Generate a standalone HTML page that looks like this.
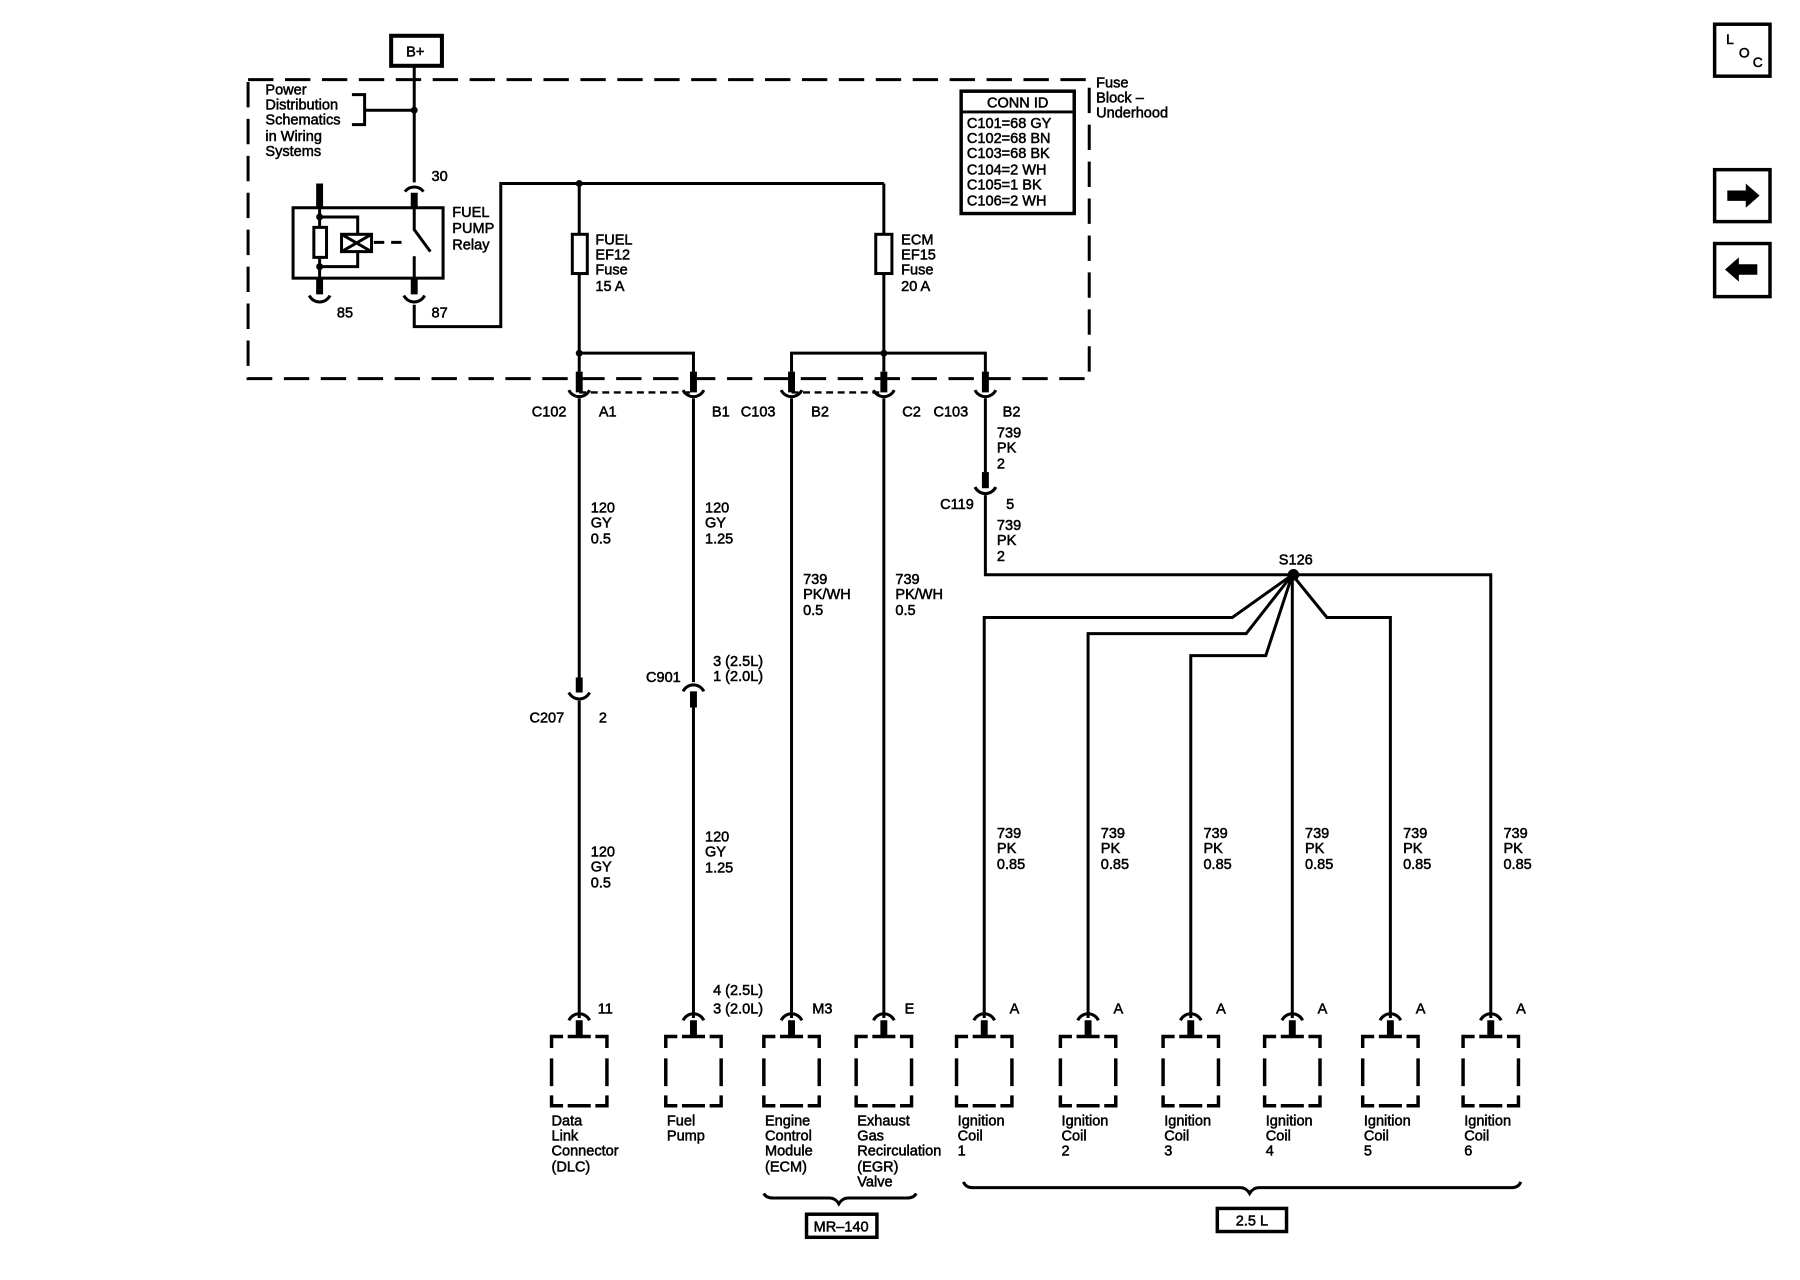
<!DOCTYPE html>
<html><head><meta charset="utf-8"><style>
html,body{margin:0;padding:0;background:#fff;}
svg{display:block;}
text{font-family:"Liberation Sans",Arial,sans-serif;font-size:12.6px;fill:#000;stroke:#000;stroke-width:0.45px;}
</style></head><body>
<svg width="1800" height="1280" viewBox="0 0 1560 1109" preserveAspectRatio="none" xmlns="http://www.w3.org/2000/svg">
<rect width="1560" height="1109" fill="#fff"/>
<g fill="none" stroke="#000" stroke-width="2.6">
<path d="M215 69 H944 V328 H215 Z" stroke-dasharray="22 10"/>
<rect x="339" y="31" width="44" height="26" stroke-width="3.5" fill="#fff"/>
<path d="M359 57 V158"/>
<path d="M305 82 H316 V108 H305 M316 95.5 H359"/>
<path d="M351 166 A10 10 0 0 1 367 166"/>
<path d="M359 167 V180" stroke-width="6"/>
<rect x="254" y="180" width="130" height="61" fill="#fff"/>
<path d="M277 159 V180" stroke-width="6"/>
<path d="M277 180 V241"/>
<rect x="272" y="197" width="11" height="26" fill="#fff"/>
<path d="M277 188 H310 V231 H277"/>
<rect x="296" y="203" width="26" height="15" fill="#fff"/>
<path d="M296 203 L322 218 M296 218 L322 203"/>
<path d="M324 210 H352" stroke-dasharray="9 6"/>
<path d="M359 180 V199 L373 218"/>
<path d="M359 222 V241"/>
<path d="M277 241 V255 M359 241 V255" stroke-width="6"/>
<path d="M268 256 A10 10 0 0 0 286 256 M350 256 A10 10 0 0 0 368 256"/>
<path d="M359 264 V283 H434 V159 H766"/>
<path d="M502 159 V306 M766 159 V306"/>
<rect x="496" y="203" width="13" height="34" fill="#fff"/>
<rect x="759" y="203" width="14" height="34" fill="#fff"/>
<path d="M502 306 H601 V322 M686 322 V306 H854 V322"/>
<path d="M502 306 V322 M766 306 V322"/>
<path d="M502 322 V340 M601 322 V340 M686 322 V340 M766 322 V340 M854 322 V340" stroke-width="6"/>
<path d="M502 340 H601 M686 340 H766" stroke-width="2" stroke-dasharray="6 4"/>
<path d="M493 338 A10 10 0 0 0 511 338 M592 338 A10 10 0 0 0 610 338 M677 338 A10 10 0 0 0 695 338 M757 338 A10 10 0 0 0 775 338 M845 338 A10 10 0 0 0 863 338"/>
<path d="M502 345 V587 M502 607 V882"/>
<path d="M502 587 V600" stroke-width="6"/>
<path d="M493 600 A10 10 0 0 0 511 600"/>
<path d="M601 345 V591 M601 613 V882"/>
<path d="M592 599 A10 10 0 0 1 610 599"/>
<path d="M601 599 V613" stroke-width="6"/>
<path d="M686 345 V882 M766 345 V882"/>
<path d="M854 345 V409 M854 429 V498 H1292 V882"/>
<path d="M854 409 V423" stroke-width="6"/>
<path d="M845 422 A10 10 0 0 0 863 422"/>
<path d="M853 882 V535 H1068 L1120 498"/>
<path d="M943 882 V549 H1080 L1120 498"/>
<path d="M1032 882 V568 H1097 L1120 498"/>
<path d="M1120 882 V498"/>
<path d="M1205 882 V535 H1150 L1120 498"/>
</g>
<circle cx="502" cy="159" r="3" fill="#000"/>
<circle cx="359" cy="95.5" r="3" fill="#000"/>
<circle cx="277" cy="188" r="3" fill="#000"/>
<circle cx="277" cy="231" r="3" fill="#000"/>
<circle cx="502" cy="306" r="3" fill="#000"/>
<circle cx="766" cy="306" r="3" fill="#000"/>
<circle cx="1121" cy="498" r="5" fill="#000"/>
<g fill="none" stroke="#000">
<path stroke-width="2.6" d="
M493 884 A10 10 0 0 1 511 884 M592 884 A10 10 0 0 1 610 884 M677 884 A10 10 0 0 1 695 884 M757 884 A10 10 0 0 1 775 884
M844 884 A10 10 0 0 1 862 884 M934 884 A10 10 0 0 1 952 884 M1023 884 A10 10 0 0 1 1041 884 M1111 884 A10 10 0 0 1 1129 884 M1196 884 A10 10 0 0 1 1214 884 M1283 884 A10 10 0 0 1 1301 884"/>
<path stroke-width="6" d="M502 884 V897 M601 884 V897 M686 884 V897 M766 884 V897 M853 884 V897 M943 884 V897 M1032 884 V897 M1120 884 V897 M1205 884 V897 M1292 884 V897"/>
</g>
<g fill="none" stroke="#000" stroke-width="3">
<path d="
M478 908 V898 H488 M492 898 H512 M516 898 H526 V908 M478 917 V941 M526 917 V941 M478 949 V958 H488 M492 958 H512 M516 958 H526 V949
M577 908 V898 H587 M591 898 H611 M615 898 H625 V908 M577 917 V941 M625 917 V941 M577 949 V958 H587 M591 958 H611 M615 958 H625 V949
M662 908 V898 H672 M676 898 H696 M700 898 H710 V908 M662 917 V941 M710 917 V941 M662 949 V958 H672 M676 958 H696 M700 958 H710 V949
M742 908 V898 H752 M756 898 H776 M780 898 H790 V908 M742 917 V941 M790 917 V941 M742 949 V958 H752 M756 958 H776 M780 958 H790 V949
M829 908 V898 H839 M843 898 H863 M867 898 H877 V908 M829 917 V941 M877 917 V941 M829 949 V958 H839 M843 958 H863 M867 958 H877 V949
M919 908 V898 H929 M933 898 H953 M957 898 H967 V908 M919 917 V941 M967 917 V941 M919 949 V958 H929 M933 958 H953 M957 958 H967 V949
M1008 908 V898 H1018 M1022 898 H1042 M1046 898 H1056 V908 M1008 917 V941 M1056 917 V941 M1008 949 V958 H1018 M1022 958 H1042 M1046 958 H1056 V949
M1096 908 V898 H1106 M1110 898 H1130 M1134 898 H1144 V908 M1096 917 V941 M1144 917 V941 M1096 949 V958 H1106 M1110 958 H1130 M1134 958 H1144 V949
M1181 908 V898 H1191 M1195 898 H1215 M1219 898 H1229 V908 M1181 917 V941 M1229 917 V941 M1181 949 V958 H1191 M1195 958 H1215 M1219 958 H1229 V949
M1268 908 V898 H1278 M1282 898 H1302 M1306 898 H1316 V908 M1268 917 V941 M1316 917 V941 M1268 949 V958 H1278 M1282 958 H1302 M1306 958 H1316 V949"/>
</g>
<g fill="none" stroke="#000" stroke-width="2.6">
<path d="M662 1034 Q664 1038 670 1038 H719 Q724 1038 727 1043 Q730 1038 735 1038 H786 Q792 1038 794 1034"/>
<path d="M835 1024 Q837 1029 843 1029 H1075 Q1080 1029 1083 1034 Q1086 1029 1091 1029 H1310 Q1316 1029 1318 1024"/>
<rect x="699" y="1052" width="61" height="20" stroke-width="3"/>
<rect x="1055" y="1047" width="60" height="20" stroke-width="3"/>
<rect x="833" y="79" width="98" height="106" stroke-width="3" fill="#fff"/>
<path d="M833 97 H931" stroke-width="2.5"/>
<rect x="1486" y="21" width="48" height="45" stroke-width="3"/>
<rect x="1486" y="147" width="48" height="45" stroke-width="3"/>
<rect x="1486" y="211" width="48" height="46" stroke-width="3"/>
</g>
<path d="M1497 165 H1513 V159 L1525 169.5 L1513 180 V174 H1497 Z" fill="#000"/>
<path d="M1523 229 H1507 V223 L1495 233.5 L1507 244 V238 H1523 Z" fill="#000"/>
<text x="1496" y="38" style="font-size:12px">L</text>
<text x="1507" y="50" style="font-size:12px">O</text>
<text x="1519" y="58" style="font-size:12px">C</text>

<text x="352" y="49">B+</text>
<text x="230" y="82">Power</text><text x="230" y="95">Distribution</text><text x="230" y="108">Schematics</text><text x="230" y="122">in Wiring</text><text x="230" y="135">Systems</text>
<text x="374" y="157">30</text>
<text x="392" y="188">FUEL</text><text x="392" y="202">PUMP</text><text x="392" y="216">Relay</text>
<text x="292" y="275">85</text><text x="374" y="275">87</text>
<text x="516" y="212">FUEL</text><text x="516" y="225">EF12</text><text x="516" y="238">Fuse</text><text x="516" y="252">15 A</text>
<text x="781" y="212">ECM</text><text x="781" y="225">EF15</text><text x="781" y="238">Fuse</text><text x="781" y="252">20 A</text>
<text x="882" y="93" text-anchor="middle">CONN ID</text>
<text x="838" y="111">C101=68 GY</text><text x="838" y="124">C102=68 BN</text><text x="838" y="137">C103=68 BK</text><text x="838" y="151">C104=2 WH</text><text x="838" y="164">C105=1 BK</text><text x="838" y="178">C106=2 WH</text>
<text x="950" y="76">Fuse</text><text x="950" y="89">Block –</text><text x="950" y="102">Underhood</text>
<text x="491" y="361" text-anchor="end">C102</text><text x="519" y="361">A1</text>
<text x="617" y="361">B1</text><text x="642" y="361">C103</text><text x="703" y="361">B2</text>
<text x="782" y="361">C2</text><text x="809" y="361">C103</text><text x="869" y="361">B2</text>
<text x="864" y="379">739</text><text x="864" y="392">PK</text><text x="864" y="406">2</text>
<text x="844" y="441" text-anchor="end">C119</text><text x="872" y="441">5</text>
<text x="864" y="459">739</text><text x="864" y="472">PK</text><text x="864" y="486">2</text>
<text x="1123" y="489" text-anchor="middle">S126</text>
<text x="512" y="444">120</text><text x="512" y="457">GY</text><text x="512" y="471">0.5</text>
<text x="611" y="444">120</text><text x="611" y="457">GY</text><text x="611" y="471">1.25</text>
<text x="696" y="506">739</text><text x="696" y="519">PK/WH</text><text x="696" y="533">0.5</text>
<text x="776" y="506">739</text><text x="776" y="519">PK/WH</text><text x="776" y="533">0.5</text>
<text x="618" y="577">3 (2.5L)</text><text x="618" y="590">1 (2.0L)</text>
<text x="590" y="591" text-anchor="end">C901</text>
<text x="489" y="626" text-anchor="end">C207</text><text x="519" y="626">2</text>
<text x="512" y="742">120</text><text x="512" y="755">GY</text><text x="512" y="769">0.5</text>
<text x="611" y="729">120</text><text x="611" y="742">GY</text><text x="611" y="756">1.25</text>
<text x="618" y="862">4 (2.5L)</text><text x="618" y="878">3 (2.0L)</text>
<text x="518" y="878">11</text><text x="704" y="878">M3</text><text x="784" y="878">E</text>
<text x="864" y="726">739</text><text x="864" y="739">PK</text><text x="864" y="753">0.85</text>
<text x="954" y="726">739</text><text x="954" y="739">PK</text><text x="954" y="753">0.85</text>
<text x="1043" y="726">739</text><text x="1043" y="739">PK</text><text x="1043" y="753">0.85</text>
<text x="1131" y="726">739</text><text x="1131" y="739">PK</text><text x="1131" y="753">0.85</text>
<text x="1216" y="726">739</text><text x="1216" y="739">PK</text><text x="1216" y="753">0.85</text>
<text x="1303" y="726">739</text><text x="1303" y="739">PK</text><text x="1303" y="753">0.85</text>
<text x="875" y="878">A</text><text x="965" y="878">A</text><text x="1054" y="878">A</text><text x="1142" y="878">A</text><text x="1227" y="878">A</text><text x="1314" y="878">A</text>
<text x="478" y="975">Data</text><text x="478" y="988">Link</text><text x="478" y="1001">Connector</text><text x="478" y="1015">(DLC)</text>
<text x="578" y="975">Fuel</text><text x="578" y="988">Pump</text>
<text x="663" y="975">Engine</text><text x="663" y="988">Control</text><text x="663" y="1001">Module</text><text x="663" y="1015">(ECM)</text>
<text x="743" y="975">Exhaust</text><text x="743" y="988">Gas</text><text x="743" y="1001">Recirculation</text><text x="743" y="1015">(EGR)</text><text x="743" y="1028">Valve</text>
<text x="830" y="975">Ignition</text><text x="830" y="988">Coil</text><text x="830" y="1001">1</text>
<text x="920" y="975">Ignition</text><text x="920" y="988">Coil</text><text x="920" y="1001">2</text>
<text x="1009" y="975">Ignition</text><text x="1009" y="988">Coil</text><text x="1009" y="1001">3</text>
<text x="1097" y="975">Ignition</text><text x="1097" y="988">Coil</text><text x="1097" y="1001">4</text>
<text x="1182" y="975">Ignition</text><text x="1182" y="988">Coil</text><text x="1182" y="1001">5</text>
<text x="1269" y="975">Ignition</text><text x="1269" y="988">Coil</text><text x="1269" y="1001">6</text>
<text x="729" y="1067" text-anchor="middle">MR–140</text>
<text x="1085" y="1062" text-anchor="middle">2.5 L</text>
</svg>
</body></html>
